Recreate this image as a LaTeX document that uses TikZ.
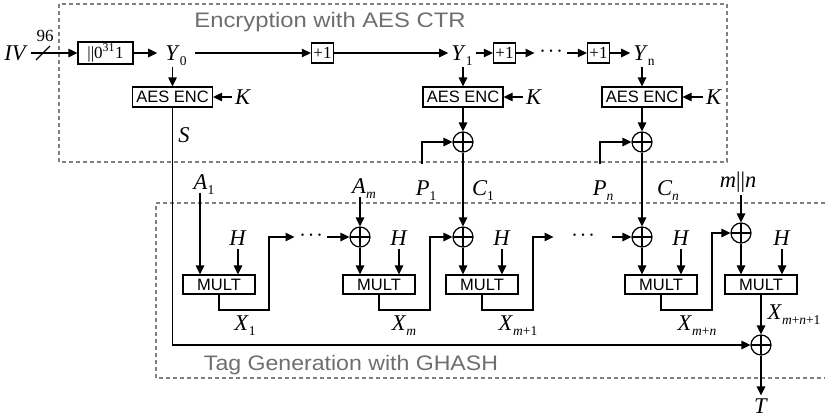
\documentclass[tikz,border=0pt]{standalone}
\usepackage{fontspec}
\setmainfont{Liberation Serif}
\setsansfont{Liberation Sans}
\usetikzlibrary{arrows.meta,shapes}

% low subscript that does not change the height of a label
\newcommand{\lo}[1]{\raisebox{-5pt}[0pt][0pt]{\fontsize{13.5}{13.5}\selectfont #1}}
\newcommand{\var}[2]{\textit{#1}\lo{#2}}
\newcommand{\bdots}{\textbullet\hspace{5pt}\textbullet\hspace{5pt}\textbullet}

\tikzset{
  wire/.style={line width=1.2pt},
  arr/.style={wire,-{Triangle[length=9pt,width=8.5pt]}},
  lbl/.style={inner sep=3pt,font=\fontsize{22.5}{22.5}\selectfont},
  inc/.style={draw,line width=1.2pt,rectangle,inner sep=2pt,minimum height=20pt,font=\fontsize{17}{17}\selectfont},
  aes/.style={draw,line width=1.2pt,rectangle,inner sep=0pt,minimum width=80pt,minimum height=20pt,font=\fontsize{16.5}{16.5}\sffamily},
  mul/.style={aes,minimum width=72pt,minimum height=19pt},
  xor/.style={draw,circle,line width=1.2pt,minimum size=20pt,inner sep=0pt,
    path picture={\draw[line width=1.2pt] (path picture bounding box.north) -- (path picture bounding box.south)
      (path picture bounding box.west) -- (path picture bounding box.east);}},
  ellip/.style={inner sep=6pt,font=\fontsize{10}{10}\selectfont},
  region/.style={draw=black!50,dash pattern=on 4pt off 3pt,line width=1.4pt},
  heading/.style={text=black!57,font=\fontsize{21}{21}\sffamily,xscale=1.1,anchor=base}
}

\begin{document}
\begin{tikzpicture}[x=1pt,y=-1pt]
\useasboundingbox (0,0) rectangle (825,418);

% the two stages
\draw[region] (59,4) rectangle (727,162);
\draw[region] (825,203) -- (156,203) -- (156,378) -- (825,378);
\node[heading,xscale=1.03] (enctitle) at (330,27) {Encryption with AES CTR};
\node[heading] (tagtitle) at (351,370) {Tag Generation with GHASH};

% counter
\node[lbl] (iv) at (16,53) {\textit{IV}};
\node[lbl,font=\fontsize{17}{17}\selectfont] (bits) at (45,36) {96};
\draw[wire] (36,60) -- (50,46);
\node[inc,minimum width=55pt] (pad) at (105.5,53) {||0\textsuperscript{31}1};
\node[lbl] (y0) at (176,53) {\var{Y}{0}};
\node[inc] (inc1) at (322.5,53) {+1};
\node[lbl] (y1) at (462,53) {\var{Y}{1}};
\node[inc] (inc2) at (504.5,53) {+1};
\node[ellip] (dd1) at (551,52) {\bdots};
\node[inc] (inc3) at (598.5,53) {+1};
\node[lbl] (yn) at (644,53) {\var{Y}{n}};

\draw[arr] (iv) -- (pad);
\draw[arr,shorten >=5pt] (pad) -- (y0);
\draw[arr,shorten <=5pt] (y0) -- (inc1);
\draw[arr] (inc1) -- (y1);
\draw[arr] (y1) -- (inc2);
\draw[arr] (inc2) -- (dd1.west |- inc2);
\draw[arr] (dd1.east |- inc3) -- (inc3);
\draw[arr] (inc3) -- (yn);

% block cipher
\node[aes] (enc0) at (172.5,97) {AES ENC};
\node[aes] (enc1) at (463,97) {AES ENC};
\node[aes] (enc2) at (642,97) {AES ENC};
\node[lbl] (k0) at (243,97) {\textit{K}};
\node[lbl] (k1) at (534,97) {\textit{K}};
\node[lbl] (k2) at (714,97) {\textit{K}};
\draw[arr,shorten <=3pt] (y0.south -| enc0) -- (enc0);
\draw[arr,shorten <=3pt] (y1.south -| enc1) -- (enc1);
\draw[arr,shorten <=3pt] (yn.south -| enc2) -- (enc2);
\draw[arr] (k0) -- (enc0);
\draw[arr] (k1) -- (enc1);
\draw[arr] (k2) -- (enc2);
\node[lbl] (s) at (184,135) {\textit{S}};

\node[xor] (xe1) at (463,142) {};
\node[xor] (xe2) at (642,142) {};
\draw[arr] (enc1) -- (xe1);
\draw[arr] (enc2) -- (xe2);
\coordinate (p1) at (422,164);
\coordinate (pn) at (600,164);
\draw[arr] (p1) |- (xe1);
\draw[arr] (pn) |- (xe2);
\node[lbl] (pl1) at (426,188) {\var{P}{1}};
\node[lbl] (cl1) at (483,188) {\var{C}{1}};
\node[lbl] (pln) at (603,188) {\var{P}{\textit{n}}};
\node[lbl] (cln) at (668,188) {\var{C}{\textit{n}}};
\node[lbl] (len) at (738,182) {\textit{m}||\textit{n}};

% GHASH chain
\node[lbl] (a1) at (204,182) {\var{A}{1}};
\node[lbl] (am) at (364,186) {\var{A}{\textit{m}}};
\node[xor] (gm) at (360,237) {};
\node[xor] (g1) at (463,237) {};
\node[xor] (gn) at (642,237) {};
\node[xor] (gl) at (741,233) {};
\node[ellip] (dd2) at (311,236) {\bdots};
\node[ellip,inner xsep=19pt] (dd3) at (583,236) {\bdots};

\node[mul] (mult1) at (219,284.5) {MULT};
\node[mul] (multm) at (379,284.5) {MULT};
\node[mul] (multm1) at (482,284.5) {MULT};
\node[mul] (multmn) at (661,284.5) {MULT};
\node[mul] (multl) at (761,284.5) {MULT};

\node[lbl] (h1) at (238,238) {\textit{H}};
\node[lbl] (hm) at (399,238) {\textit{H}};
\node[lbl] (hm1) at (502,238) {\textit{H}};
\node[lbl] (hmn) at (681,238) {\textit{H}};
\node[lbl] (hl) at (782,238) {\textit{H}};
\draw[arr] (h1) -- (h1 |- mult1.north);
\draw[arr] (hm) -- (hm |- multm.north);
\draw[arr] (hm1) -- (hm1 |- multm1.north);
\draw[arr] (hmn) -- (hmn |- multmn.north);
\draw[arr] (hl) -- (hl |- multl.north);

\draw[arr] ([xshift=-19pt]mult1.north |- a1.south) -- ([xshift=-19pt]mult1.north);
\draw[arr] (am.south -| gm) -- (gm);
\draw[arr] (gm) -- (gm |- multm.north);
\draw[arr] (xe1) -- (g1);
\draw[arr] (g1) -- (g1 |- multm1.north);
\draw[arr] (xe2) -- (gn);
\draw[arr] (gn) -- (gn |- multmn.north);
\draw[arr] (len.south -| gl) -- (gl);
\draw[arr] (gl) -- (gl |- multl.north);

\draw[arr] (mult1.south) |- (269,310) |- (dd2.west |- gm);
\draw[arr] (dd2.east |- gm) -- (gm);
\draw[arr] (multm.south) |- (430,310) |- (g1);
\draw[arr] (multm1.south) |- (533,310) |- (dd3.west |- gn);
\draw[arr] (dd3.east |- gn) -- (gn);
\draw[arr] (multmn.south) |- (712,310) |- (gl);

\node[lbl] (x1) at (245,323) {\var{X}{1}};
\node[lbl] (xm) at (404,323) {\var{X}{\textit{m}}};
\node[lbl] (xm1) at (518,323) {\var{X}{\textit{m}+1}};
\node[lbl] (xmn) at (697,323) {\var{X}{\textit{m}+\textit{n}}};
\node[lbl] (xl) at (794,312) {\var{X}{\textit{m}+\textit{n}+1}};

% tag
\node[xor] (gf) at (761,345) {};
\node[lbl] (tag) at (761,406) {\textit{T}};
\draw[arr] (multl) -- (gf);
\draw[arr] (enc0) |- (gf);
\draw[arr] (gf) -- (tag);
\end{tikzpicture}
\end{document}
